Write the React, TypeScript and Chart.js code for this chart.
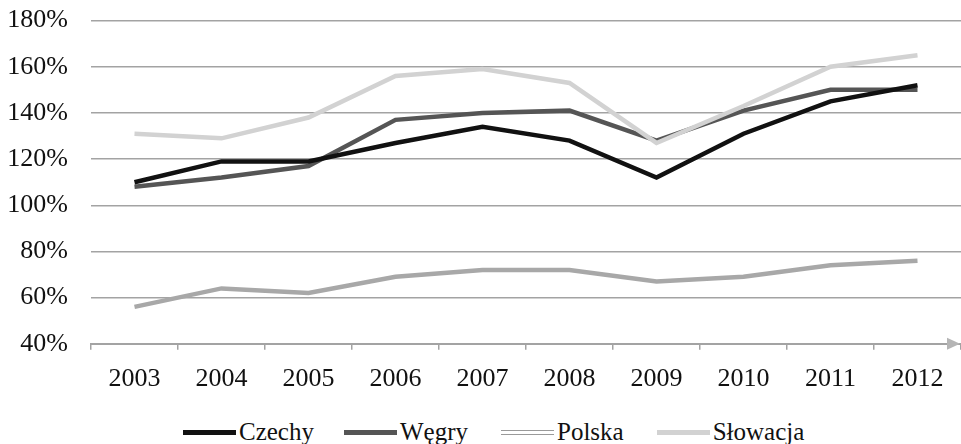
import React, { useEffect, useRef } from "react";
import { Chart, registerables } from "chart.js";

Chart.register(...registerables);

const years = ["2003", "2004", "2005", "2006", "2007", "2008", "2009", "2010", "2011", "2012"];
const czechy = [110, 119, 119, 127, 134, 128, 112, 131, 145, 152];
const wegry = [108, 112, 117, 137, 140, 141, 128, 141, 150, 150];
const polska = [56, 64, 62, 69, 72, 72, 67, 69, 74, 76];
const slowacja = [131, 129, 138, 156, 159, 153, 127, 143, 160, 165];
const yTicks = [40, 60, 80, 100, 120, 140, 160, 180];

const FONT = "'Liberation Serif', 'Times New Roman', serif";
const GRID = "#a3a3a3";

const arrowPlugin = {
  id: "arrowPlugin",
  afterDraw(chart: any) {
    const { ctx } = chart;
    const y = chart.scales.y.getPixelForValue(40);
    const r = chart.width - 1;
    ctx.save();
    ctx.fillStyle = "#b5b5b5";
    ctx.beginPath();
    ctx.moveTo(r, y);
    ctx.lineTo(r - 13, y - 6);
    ctx.lineTo(r - 13, y + 6);
    ctx.closePath();
    ctx.fill();
    ctx.restore();
  },
};

export default function App() {
  const ref = useRef<HTMLCanvasElement | null>(null);
  useEffect(() => {
    if (!ref.current) return;
    const chart = new Chart(ref.current, {
      type: "line",
      data: {
        labels: years,
        datasets: [
          { label: "Czechy", data: czechy, borderColor: "#111111", backgroundColor: "#111111", borderWidth: 4.5, order: 0 },
          { label: "Węgry", data: wegry, borderColor: "#555555", backgroundColor: "#555555", borderWidth: 4.5, order: 2 },
          { label: "Polska", data: polska, borderColor: "#a8a8a8", backgroundColor: "#a8a8a8", borderWidth: 4.5, order: 3 },
          { label: "Słowacja", data: slowacja, borderColor: "#d2d2d2", backgroundColor: "#d2d2d2", borderWidth: 4.5, order: 1 },
        ],
      },
      options: {
        animation: false,
        responsive: false,
        maintainAspectRatio: false,
        elements: { point: { radius: 0, hoverRadius: 0 }, line: { tension: 0, borderCapStyle: "butt", borderJoinStyle: "miter" } },
        layout: { padding: { left: 7, right: 0, top: 0, bottom: 4 } },
        plugins: { legend: { display: false }, tooltip: { enabled: false } },
        scales: {
          x: {
            offset: true,
            grid: { display: true, drawOnChartArea: false, drawTicks: true, tickLength: 6, offset: true, color: GRID, lineWidth: 1.5 },
            border: { display: true, color: GRID, width: 2 },
            ticks: { color: "#111", font: { family: FONT, size: 26 }, padding: 14, maxRotation: 0 },
          },
          y: {
            min: 40,
            max: 180,
            afterBuildTicks: (axis: any) => {
              axis.ticks = yTicks.map((v) => ({ value: v }));
            },
            afterFit: (scale: any) => {
              scale.width = 84;
            },
            grid: { color: GRID, lineWidth: 1.5, drawTicks: false },
            border: { display: false },
            ticks: {
              color: "#111",
              font: { family: FONT, size: 26 },
              padding: 23,
              callback: (v: any) => v + "%",
            },
          },
        },
      },
      plugins: [arrowPlugin],
    });
    return () => chart.destroy();
  }, []);

  const legendItems = [
    { label: "Czechy", style: { height: 5, background: "#111111" } },
    { label: "Węgry", style: { height: 5, background: "#555555" } },
    { label: "Polska", style: { height: 3, background: "#ffffff", borderTop: "1px solid #9a9a9a", borderBottom: "1px solid #9a9a9a" } },
    { label: "Słowacja", style: { height: 5, background: "#d2d2d2" } },
  ];

  return (
    <div style={{ position: "absolute", left: 0, top: 0, width: 961, height: 444, background: "#fff", overflow: "hidden" }}>
      <canvas ref={ref} width={961} height={431} style={{ position: "absolute", left: 0, top: -18, display: "block", width: 961, height: 431 }} />
      <div
        style={{
          position: "absolute",
          left: 183,
          top: 418,
          display: "flex",
          alignItems: "center",
          fontFamily: FONT,
          fontSize: 25,
          color: "#111",
          lineHeight: "28px",
          whiteSpace: "nowrap",
        }}
      >
        {legendItems.map((it, i) => (
          <div key={it.label} style={{ display: "flex", alignItems: "center", marginRight: i === 0 ? 30 : 33 }}>
            <div style={{ width: 53, marginRight: 3, boxSizing: "content-box", ...it.style }} />
            <span>{it.label}</span>
          </div>
        ))}
      </div>
    </div>
  );
}
